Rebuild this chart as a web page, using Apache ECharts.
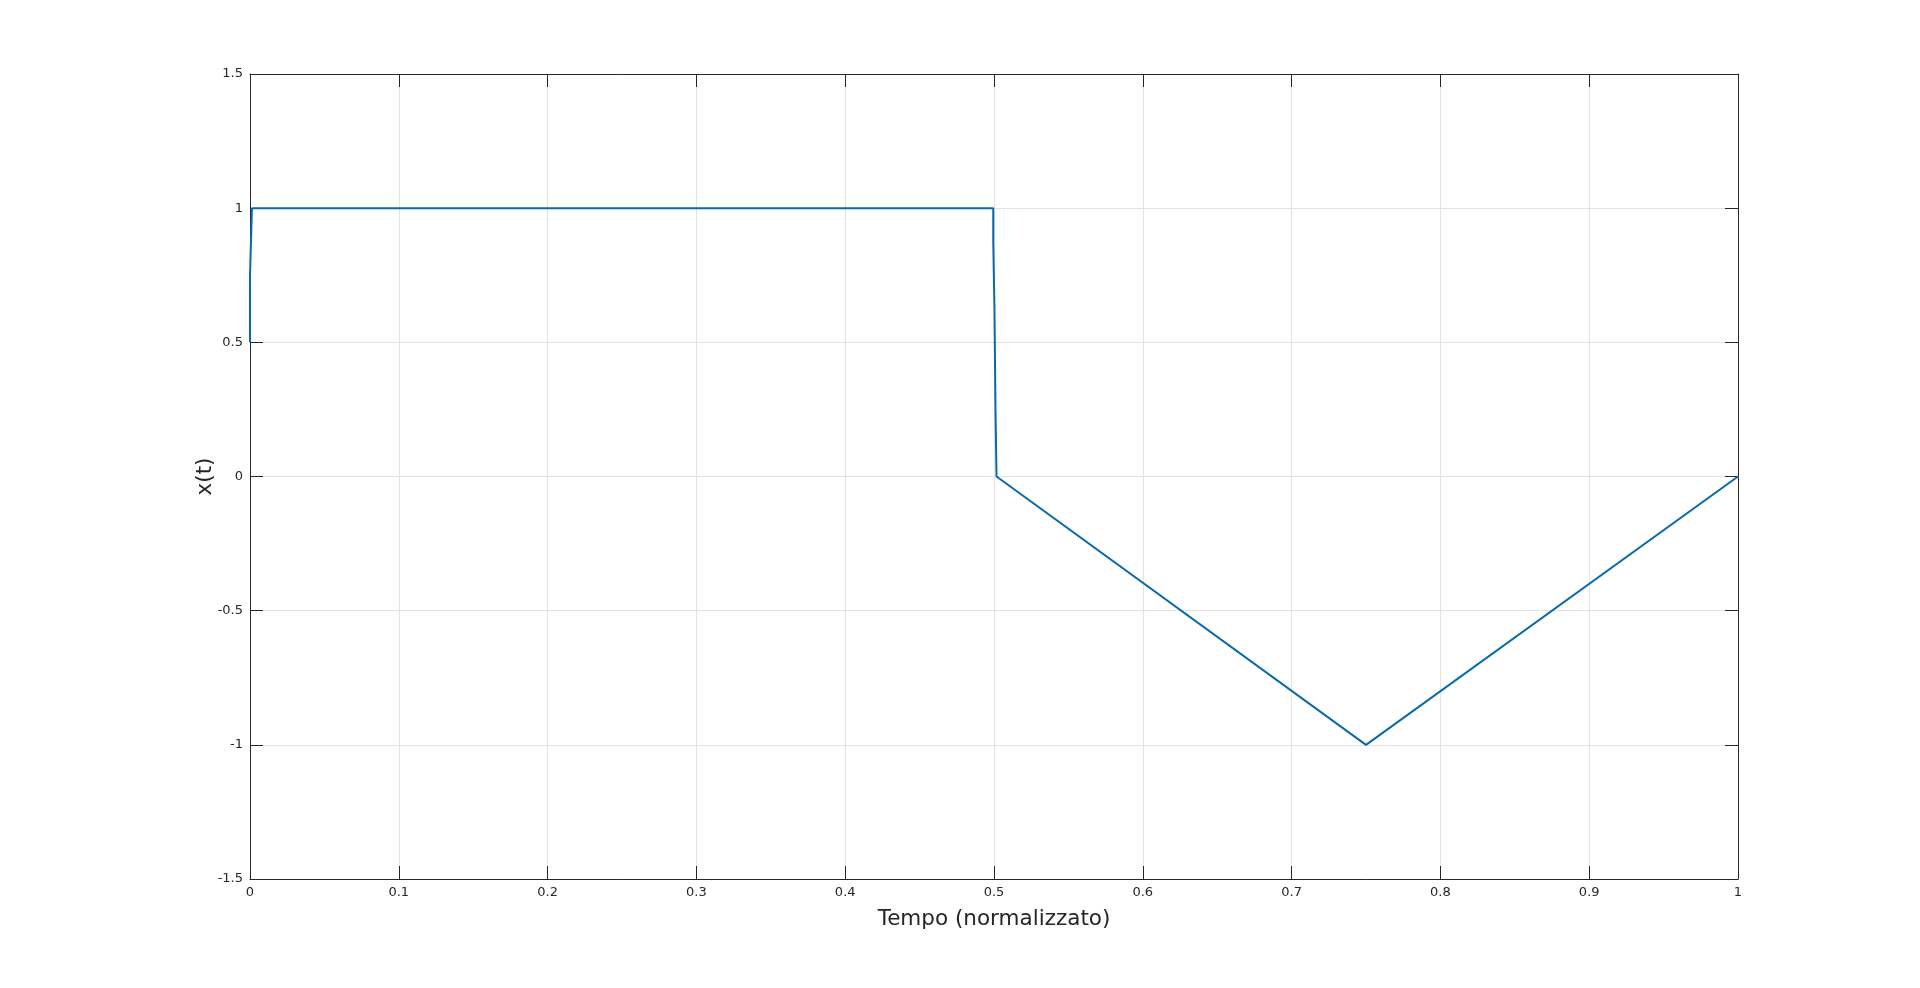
<!DOCTYPE html>
<html>
<head>
<meta charset="utf-8">
<script src="https://cdn.jsdelivr.net/npm/echarts@6/dist/echarts.min.js"></script>
<style>
    html, body { margin: 0; padding: 0; background: #fff; }
    #chart { width: 1920px; height: 988px; }
</style>
</head>
<body>
<div id="chart"></div>
<script>
// segnale x(t) (t, x)
const tValues = [0, 0, 0.0013, 0.0013, 0.4995, 0.4995, 0.5003, 0.5003, 0.501, 0.501, 0.5017, 0.5017, 0.75, 1];
const xValues = [0.5, 0.75, 0.75, 1, 1, 0.875, 0.875, 0.625, 0.625, 0.25, 0.25, 0, -1, 0];
const xTicks = [0, 0.1, 0.2, 0.3, 0.4, 0.5, 0.6, 0.7, 0.8, 0.9, 1];
const yTicks = [-1.5, -1, -0.5, 0, 0.5, 1, 1.5];

const font = 'DejaVu Sans';
const textColor = '#262626';
const axisColor = '#262626';

const points = tValues.map((t, i) => [t, xValues[i]]);

const baseX = {
    type: 'value',
    min: xTicks[0],
    max: xTicks[xTicks.length - 1],
    interval: 0.1,
    axisLine: { show: true, onZero: false, lineStyle: { color: axisColor, width: 1 } },
    axisTick: { show: true, inside: true, length: 13, lineStyle: { color: axisColor } },
    splitLine: { show: false },
};
const baseY = {
    type: 'value',
    min: yTicks[0],
    max: yTicks[yTicks.length - 1],
    interval: 0.5,
    axisLine: { show: true, onZero: false, lineStyle: { color: axisColor, width: 1 } },
    axisTick: { show: true, inside: true, length: 13, lineStyle: { color: axisColor } },
    splitLine: { show: false },
};

const option = {
    animation: false,
    backgroundColor: '#fff',
    grid: { left: 250, right: 182, top: 74, bottom: 109 },
    xAxis: [
        {
            ...baseX,
            position: 'bottom',
            name: 'Tempo (normalizzato)',
            nameLocation: 'middle',
            nameGap: 29,
            nameTextStyle: { fontFamily: font, fontSize: 21.5, color: textColor },
            axisLabel: {
                fontFamily: font, fontSize: 13, color: textColor, margin: 7,
                formatter: (v) => String(Math.round(v * 10) / 10),
            },
            splitLine: { show: true, lineStyle: { color: '#e3e3e3', width: 1 } },
        },
        { ...baseX, position: 'top', axisLabel: { show: false } },
    ],
    yAxis: [
        {
            ...baseY,
            position: 'left',
            name: 'x(t)',
            nameLocation: 'middle',
            nameGap: 34,
            nameMoveOverlap: false,
            nameTextStyle: { fontFamily: font, fontSize: 21.5, color: textColor },
            axisLabel: { fontFamily: font, fontSize: 13, color: textColor, margin: 7 },
            splitLine: { show: true, lineStyle: { color: '#e3e3e3', width: 1 } },
        },
        { ...baseY, position: 'right', axisLabel: { show: false } },
    ],
    series: [
        {
            type: 'line',
            data: points,
            showSymbol: false,
            lineStyle: { color: '#0a6aa8', width: 2 },
            z: 3,
        },
    ],
};

const chart = echarts.init(document.getElementById('chart'));
chart.setOption(option);
</script>
</body>
</html>
